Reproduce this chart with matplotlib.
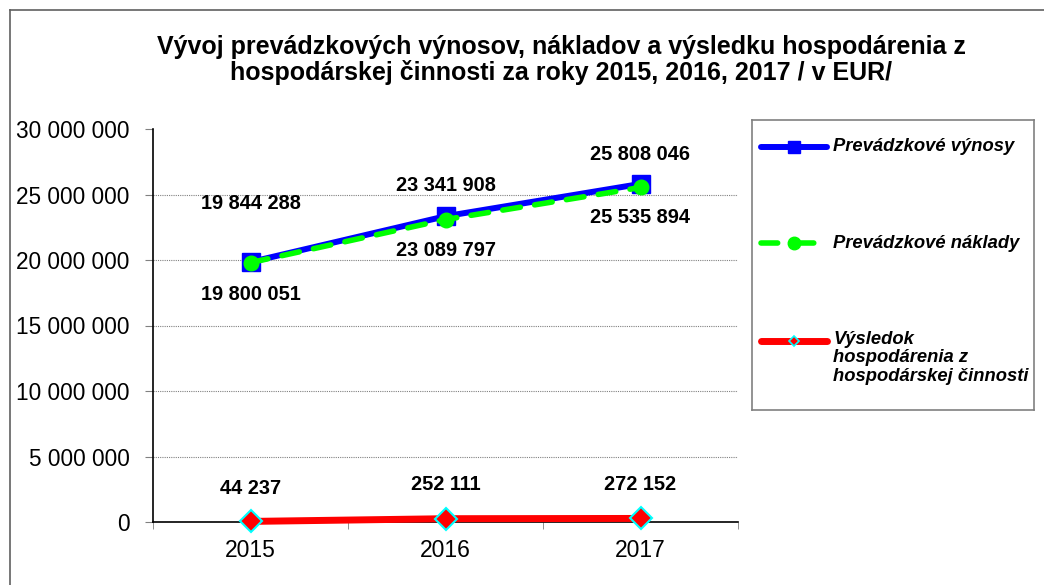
import matplotlib.pyplot as plt
from matplotlib.lines import Line2D
from matplotlib.ticker import FuncFormatter, FixedLocator

plt.rcParams['font.family'] = ['Liberation Sans', 'DejaVu Sans']

roky = ['2015', '2016', '2017']
vynosy = [19844288, 23341908, 25808046]
naklady = [19800051, 23089797, 25535894]
vysledok = [44237, 252111, 272152]

nazvy = ['Prevádzkové výnosy', 'Prevádzkové náklady',
         'Výsledok\nhospodárenia z\nhospodárskej činnosti']
titulok = ('Vývoj prevádzkových výnosov, nákladov a výsledku hospodárenia z\n'
           'hospodárskej činnosti za roky 2015, 2016, 2017 / v EUR/')


def medzery(v, pos=None):
    return f'{int(round(v)):,}'.replace(',', ' ')


W, H = 1044, 585
fig = plt.figure(figsize=(W / 100, H / 100), dpi=100)
ax = fig.add_axes([153 / W, (H - 522) / H, 585 / W, 393 / H])

x = list(range(len(roky)))
ax.plot(x, vynosy, color='#0000FF', lw=4.3, marker='s', ms=13,
        mec='#0000FF', zorder=3, clip_on=False)
ax.plot(x, naklady, color='#00FF00', lw=4, ls=(0, (3.2, 2.6)),
        dash_capstyle='round', marker='o', ms=10.5, zorder=4, clip_on=False)
ax.plot(x, vysledok, color='#FF0000', lw=5, marker='D', ms=11,
        mfc='#FF0000', mec='#00FFFF', mew=1.5, zorder=5, clip_on=False)

# popisky hodnot (posun v pixeloch)
posun_v = [(0, 59), (0, 31), (0, 29)]
posun_n = [(0, -32), (0, -31), (0, -30)]
posun_r = [(0, 33), (0, 34), (0, 34)]
for serie, posun in ((vynosy, posun_v), (naklady, posun_n), (vysledok, posun_r)):
    for xi, v, off in zip(x, serie, posun):
        ax.annotate(medzery(v), (xi, v), xytext=off, textcoords='offset pixels',
                    ha='center', va='center', fontsize=14.4, fontweight='bold')

ax.set_xlim(-0.5, 2.5)
ax.set_ylim(0, 30000000)
ax.set_yticks(range(0, 30000001, 5000000))
ax.yaxis.set_major_formatter(FuncFormatter(medzery))
ax.set_xticks(x)
ax.set_xticklabels(roky)
ax.xaxis.set_minor_locator(FixedLocator([-0.5, 0.5, 1.5, 2.5]))
ax.tick_params(axis='x', which='major', length=0, labelsize=16.5, pad=12)
ax.tick_params(axis='x', which='minor', length=5, color='#808080', direction='out')
ax.tick_params(axis='y', length=6, color='#808080', labelsize=16.3, pad=11)

ax.grid(axis='y', color='#808080', lw=0.8, ls=(0, (1, 1)))
ax.yaxis.get_gridlines()[-1].set_visible(False)
ax.set_axisbelow(True)
for s in ('top', 'right'):
    ax.spines[s].set_visible(False)
for s in ('left', 'bottom'):
    ax.spines[s].set_color('black')
    ax.spines[s].set_linewidth(1.2)

fig.text(561 / W, 1 - 35 / H, titulok, ha='center', va='top', fontsize=18,
         fontweight='bold', linespacing=1.07)

# legenda
lax = fig.add_axes([752 / W, (H - 410) / H, 282 / W, 290 / H])
lax.set_xlim(0, 282)
lax.set_ylim(290, 0)
lax.set_xticks([])
lax.set_yticks([])
for s in lax.spines.values():
    s.set_color('#808080')
    s.set_linewidth(1.2)
lax.add_line(Line2D([9, 75], [27, 27], color='#0000FF', lw=4.3,
                    solid_capstyle='round'))
lax.add_line(Line2D([42], [27], color='#0000FF', marker='s', ms=9))
lax.add_line(Line2D([9, 75], [123, 123], color='#00FF00', lw=4,
                    ls=(0, (3, 3.5)), dash_capstyle='round'))
lax.add_line(Line2D([42], [123], color='#00FF00', marker='o', ms=9))
lax.add_line(Line2D([9, 75], [221, 221], color='#FF0000', lw=5,
                    solid_capstyle='round'))
lax.add_line(Line2D([42], [221], marker='D', ms=5.5, mfc='#FF0000',
                    mec='#00FFFF', mew=1.2))
lax.text(81, 27, nazvy[0], ha='left', va='center', fontsize=13.2,
         fontweight='bold', style='italic')
lax.text(81, 123, nazvy[1], ha='left', va='center', fontsize=13.2,
         fontweight='bold', style='italic')
lax.text(81, 211, nazvy[2], ha='left', va='top', fontsize=13.2,
         fontweight='bold', style='italic', linespacing=1.1)

# okraj grafu
fig.add_artist(Line2D([10 / W, 1], [1 - 10 / H, 1 - 10 / H], color='#606060', lw=1.2))
fig.add_artist(Line2D([10 / W, 10 / W], [0, 1 - 10 / H], color='#606060', lw=1.2))

fig.savefig('out.png', dpi=100)
